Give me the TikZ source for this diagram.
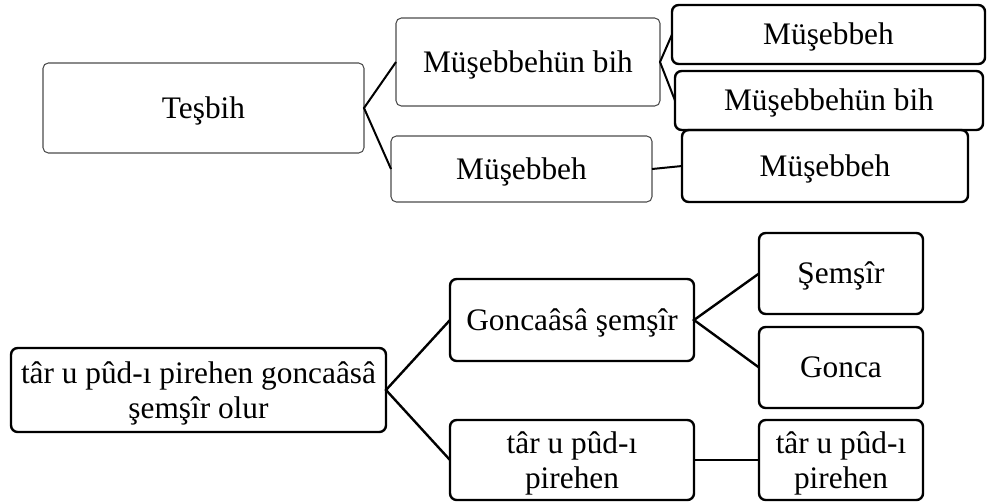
\documentclass[tikz,border=0pt]{standalone}
\usepackage{fontspec}
\setmainfont{Liberation Serif}
\usepackage{xcolor}
\usepackage{tikz}

\tikzset{
  thinbox/.style={draw=black!70, line width=0.8pt, rounded corners=4pt,
    inner sep=0pt, outer sep=0pt, align=center,
    font=\fontsize{23.5}{26}\selectfont},
  thickbox/.style={draw=black, line width=1.8pt, rounded corners=5pt,
    inner sep=0pt, outer sep=0pt, align=center,
    font=\fontsize{23.5}{26}\selectfont},
  oneline/.style={text height=19pt, text depth=4pt},
  twoline/.style={text depth=0pt},
  link/.style={draw=black, line width=1.5pt},
}

\begin{document}
\begin{tikzpicture}[x=0.75pt,y=-0.75pt]
  \useasboundingbox (0,0) rectangle (988,501);
  % upper tree
  \node[thinbox, oneline, minimum width=240.75pt, minimum height=67.5pt] (tesbih) at (203.5,108) {Teşbih};
  \node[thinbox, oneline, minimum width=198pt, minimum height=66pt] (mbihA) at (528,62) {Müşebbehün bih};
  \node[thinbox, oneline, minimum width=195.75pt, minimum height=49.5pt] (mbehA) at (521.5,169) {Müşebbeh};
  \node[thickbox, oneline, minimum width=234.75pt, minimum height=44.25pt] (mbehB) at (828.5,34.5) {Müşebbeh};
  \node[thickbox, oneline, minimum width=231pt, minimum height=44.25pt] (mbihB) at (829,100.5) {Müşebbehün bih};
  \node[thickbox, oneline, minimum width=214.5pt, minimum height=54pt] (mbehC) at (825,166) {Müşebbeh};
  \draw[link] (mbihA.west) -- (tesbih.east) -- (mbehA.west);
  \draw[link] (mbehB.west) -- (mbihA.east) -- (mbihB.west);
  \draw[link] (mbehA.east) -- (mbehC.west);
  % lower tree
  \node[thickbox, twoline, minimum width=281.25pt, minimum height=63pt] (root) at (198.5,390) {târ u pûd-ı pirehen goncaâsâ\\ şemşîr olur};
  \node[thickbox, oneline, minimum width=183pt, minimum height=61.5pt] (gonsem) at (572,320) {Goncaâsâ şemşîr};
  \node[thickbox, twoline, minimum width=183pt, minimum height=60pt] (tarA) at (572,460) {târ u pûd-ı\\ pirehen};
  \node[thickbox, oneline, minimum width=123pt, minimum height=60.75pt] (semsir) at (841,273.5) {Şemşîr};
  \node[thickbox, oneline, minimum width=123pt, minimum height=60.75pt] (gonca) at (841,367.5) {Gonca};
  \node[thickbox, twoline, minimum width=123pt, minimum height=60pt] (tarB) at (841,460) {târ u pûd-ı\\ pirehen};
  \draw[link, line width=1.8pt] (gonsem.west) -- (root.east) -- (tarA.west);
  \draw[link, line width=1.8pt] (semsir.west) -- (gonsem.east) -- (gonca.west);
  \draw[link, line width=1.8pt] (tarA.east) -- (tarB.west);
\end{tikzpicture}
\end{document}
